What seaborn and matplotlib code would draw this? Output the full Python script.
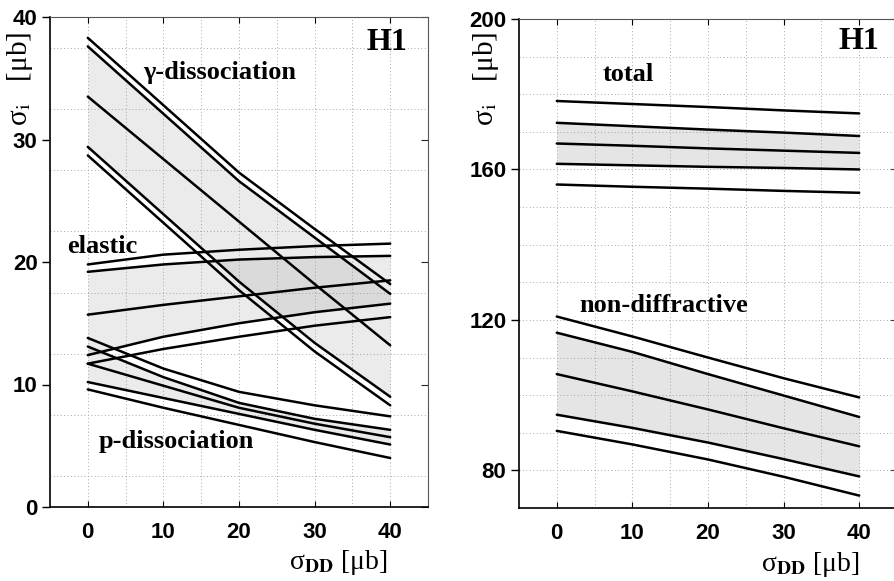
import matplotlib
matplotlib.use("Agg")
import matplotlib.pyplot as plt
import seaborn as sns
import pandas as pd
import numpy as np

# ---------------- data ----------------
sigma_dd = [0, 10, 20, 30, 40]

# left panel: gamma-dissociation
gam1 = [38.3, 32.8, 27.3, 22.7, 18.2]
gam2 = [37.6, 32.1, 26.6, 22.0, 17.4]
gam3 = [33.5, 28.4, 23.3, 18.2, 13.2]
gam4 = [29.4, 23.9, 18.4, 13.4, 9.0]
gam5 = [28.7, 23.2, 17.7, 12.7, 8.3]
# left panel: elastic
el1 = [19.8, 20.6, 21.0, 21.3, 21.5]
el2 = [19.2, 19.8, 20.2, 20.4, 20.5]
el3 = [15.7, 16.5, 17.2, 17.9, 18.5]
el4 = [12.4, 13.9, 15.0, 15.9, 16.6]
el5 = [11.7, 12.9, 13.9, 14.8, 15.5]
# left panel: p-dissociation
pd1 = [13.8, 11.3, 9.4, 8.3, 7.4]
pd2 = [13.1, 10.6, 8.5, 7.2, 6.3]
pd3 = [11.7, 9.9, 8.1, 6.8, 5.7]
pd4 = [10.2, 8.9, 7.6, 6.3, 5.1]
pd5 = [9.6, 8.1, 6.7, 5.3, 4.0]

# right panel: total
tot1 = [178.2, 177.4, 176.6, 175.7, 174.9]
tot2 = [172.4, 171.5, 170.6, 169.8, 168.9]
tot3 = [166.9, 166.3, 165.6, 165.0, 164.4]
tot4 = [161.5, 161.1, 160.7, 160.4, 160.0]
tot5 = [156.0, 155.4, 154.9, 154.3, 153.8]
# right panel: non-diffractive
nd1 = [120.9, 115.6, 110.0, 104.5, 99.4]
nd2 = [116.6, 111.5, 105.6, 99.9, 94.2]
nd3 = [105.6, 101.0, 96.2, 91.2, 86.4]
nd4 = [94.8, 91.3, 87.4, 83.0, 78.4]
nd5 = [90.5, 86.9, 82.9, 78.3, 73.3]

left_curves = {"g1": gam1, "g2": gam2, "g3": gam3, "g4": gam4, "g5": gam5,
               "e1": el1, "e2": el2, "e3": el3, "e4": el4, "e5": el5,
               "p1": pd1, "p2": pd2, "p3": pd3, "p4": pd4, "p5": pd5}
right_curves = {"t1": tot1, "t2": tot2, "t3": tot3, "t4": tot4, "t5": tot5,
                "n1": nd1, "n2": nd2, "n3": nd3, "n4": nd4, "n5": nd5}

left_bands = [(gam2, gam4), (el2, el4), (pd2, pd4)]
right_bands = [(tot2, tot4), (nd2, nd4)]

left_yticks = [0, 10, 20, 30, 40]
right_yticks = [80, 120, 160, 200]
xticks = [0, 10, 20, 30, 40]


def to_long(curves):
    rows = []
    for name, vals in curves.items():
        for xv, yv in zip(sigma_dd, vals):
            rows.append({"x": xv, "y": yv, "curve": name})
    return pd.DataFrame(rows)


# ---------------- style ----------------
sns.set_theme(style="white")
plt.rcParams["font.family"] = ["Liberation Sans", "DejaVu Sans"]
plt.rcParams["mathtext.fontset"] = "stix"
plt.rcParams["text.color"] = "black"

fig = plt.figure(figsize=(8.94, 5.81), dpi=100)
W, H = 894, 581
axL = fig.add_axes([50 / W, 1 - 507 / H, 378 / W, 490 / H])
axR = fig.add_axes([519 / W, 1 - 508 / H, 378 / W, 489 / H])

serif = ["Liberation Serif", "DejaVu Serif"]


def style_axis(ax, ylim, yticks, grid_y):
    ax.set_xlim(-5, 45)
    ax.set_ylim(*ylim)
    ax.set_xticks(xticks)
    ax.set_yticks(yticks)
    ax.set_xlabel("")
    ax.set_ylabel("")
    for xv in np.arange(0, 41, 5):
        ax.axvline(xv, color="#a8a8a8", lw=0.7, ls=(0, (1, 2.5)), zorder=0.5)
    for yv in grid_y:
        ax.axhline(yv, color="#a8a8a8", lw=0.7, ls=(0, (1, 2.5)), zorder=0.5)
    ax.tick_params(axis="y", which="major", direction="out", length=6, width=1.0,
                   left=True, right=False, labelsize=16, pad=3, colors="black")
    ax.tick_params(axis="x", which="major", direction="in", length=4, width=0.8,
                   bottom=True, top=True, labelsize=16, pad=11, colors="black")
    for lab in ax.get_xticklabels() + ax.get_yticklabels():
        lab.set_fontweight("bold")
    sec = ax.secondary_yaxis("right")
    sec.set_yticks(yticks)
    sec.tick_params(direction="in", length=5, width=0.8, labelright=False)
    sec.spines["right"].set_visible(False)
    for side in ["left", "bottom"]:
        ax.spines[side].set_color("black")
        ax.spines[side].set_linewidth(1.2)
    for side in ["top", "right"]:
        ax.spines[side].set_color("#555555")
        ax.spines[side].set_linewidth(0.8)


# ---------------- left panel ----------------
for lo, hi in left_bands:
    axL.fill_between(sigma_dd, lo, hi, color="#8c8c8c", alpha=0.17, lw=0, zorder=1)
sns.lineplot(data=to_long(left_curves), x="x", y="y", units="curve",
             estimator=None, color="black", lw=1.8, ax=axL, legend=False, zorder=3)
style_axis(axL, (0, 40), left_yticks, np.arange(2.5, 40, 5))

axL.text(7.3, 34.9, "γ-dissociation", family=serif, fontweight="bold", fontsize=19, color="black")
axL.text(-2.8, 20.7, "elastic", family=serif, fontweight="bold", fontsize=19, color="black")
axL.text(1.5, 4.8, "p-dissociation", family=serif, fontweight="bold", fontsize=19, color="black")
axL.text(42.2, 37.3, "H1", family=serif, fontweight="bold", fontsize=23, ha="right", color="black")

# ---------------- right panel ----------------
for lo, hi in right_bands:
    axR.fill_between(sigma_dd, lo, hi, color="#8c8c8c", alpha=0.22, lw=0, zorder=1)
sns.lineplot(data=to_long(right_curves), x="x", y="y", units="curve",
             estimator=None, color="black", lw=1.8, ax=axR, legend=False, zorder=3)
style_axis(axR, (70, 200), right_yticks, np.arange(80, 200, 10))

axR.text(6.1, 183.5, "total", family=serif, fontweight="bold", fontsize=19, color="black")
axR.text(3.0, 122.1, "non-diffractive", family=serif, fontweight="bold", fontsize=19, color="black")
axR.text(42.7, 192, "H1", family=serif, fontweight="bold", fontsize=23, ha="right", color="black")

# ---------------- axis labels ----------------
ylab = r"σ$_{\mathrm{i}}$   [μb]"
xlab = r"σ$_{\mathbf{DD}}$ [μb]"
fig.text(20 / W, 1 - 79 / H, ylab, rotation=90, ha="center", va="center",
         family=serif, fontsize=21, color="black")
fig.text(486 / W, 1 - 79 / H, ylab, rotation=90, ha="center", va="center",
         family=serif, fontsize=21, color="black")
fig.text(388 / W, 1 - 569 / H, xlab, ha="right", va="baseline",
         family=serif, fontsize=20, color="black")
fig.text(860 / W, 1 - 571 / H, xlab, ha="right", va="baseline",
         family=serif, fontsize=20, color="black")

fig.savefig("out.png", dpi=100)
